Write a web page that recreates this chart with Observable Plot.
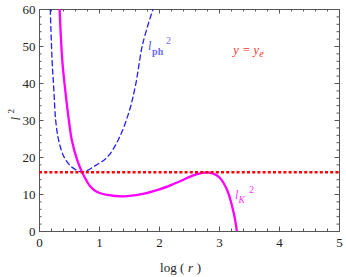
<!DOCTYPE html>
<html><head><meta charset="utf-8">
<script src="https://cdn.jsdelivr.net/npm/d3@7"></script>
<script src="https://cdn.jsdelivr.net/npm/@observablehq/plot@0.6"></script>
<style>body{margin:0;background:#fff}</style>
</head><body><div id="chart"></div>
<script>
// l_ph^2 (blue dashed)
const phLogR = [0.18, 0.21, 0.24, 0.27, 0.32, 0.41, 0.54, 0.72, 0.93, 1.13, 1.32, 1.49, 1.6, 1.72, 1.89];
const phL2   = [60,   46.2, 38.1, 30,   24.6, 20.1, 17.4, 16.1, 17.8, 20.1, 25.0, 32.2, 39.5, 50.7, 60];
// l_K^2 (magenta solid)
const kLogR = [0.335, 0.38, 0.43, 0.49, 0.54, 0.63, 0.71, 0.85, 0.96, 1.13, 1.4, 1.7, 2.0, 2.2, 2.4, 2.55, 2.7, 2.8, 2.9, 3.0, 3.13, 3.24, 3.29];
const kL2   = [60,    46.2, 38.1, 30,   24.6, 19.2, 16.0, 12.1, 10.7, 9.9,  9.5, 10.1, 11.4, 12.6, 14.0, 15.1, 15.8, 16.0, 15.6, 14.6, 11.1, 4.8, 0];
const yE = 16;
const xMajor = [0, 1, 2, 3, 4, 5];
const yMajor = [0, 10, 20, 30, 40, 50, 60];

const ph = phLogR.map((x, i) => ({x, y: phL2[i]}));
const kk = kLogR.map((x, i) => ({x, y: kL2[i]}));
const xMinor = d3.range(0, 5.001, 0.2).map(v => +v.toFixed(2)).filter(v => Math.abs(v - Math.round(v)) > 1e-6);
const yMinor = d3.range(0, 60.001, 2).filter(v => v % 10 !== 0);

const W = 346, H = 277, mt = 9, mb = 46, ml = 39, mr = 7;
const ih = H - mt - mb, iw = W - ml - mr;
const tc = "#555";
const serif = "Liberation Serif, Times New Roman, serif";

const chart = Plot.plot({
  width: W, height: H,
  marginTop: mt, marginBottom: mb, marginLeft: ml, marginRight: mr,
  style: {fontFamily: serif, background: "#fff", overflow: "visible"},
  x: {domain: [0, 5]},
  y: {domain: [0, 60]},
  marks: [
    // ticks inward, all four sides
    Plot.ruleX(xMajor, {insetTop: ih - 4.5, stroke: tc}),
    Plot.ruleX(xMajor, {insetBottom: ih - 4.5, stroke: tc}),
    Plot.ruleX(xMinor, {insetTop: ih - 2.5, stroke: tc}),
    Plot.ruleX(xMinor, {insetBottom: ih - 2.5, stroke: tc}),
    Plot.ruleY(yMajor, {insetRight: iw - 4.5, stroke: tc}),
    Plot.ruleY(yMajor, {insetLeft: iw - 4.5, stroke: tc}),
    Plot.ruleY(yMinor, {insetRight: iw - 2.5, stroke: tc}),
    Plot.ruleY(yMinor, {insetLeft: iw - 2.5, stroke: tc}),
    Plot.axisX({ticks: xMajor, tickSize: 0, tickPadding: 6, fontSize: 13, fill: "#222", tickFormat: d => d, label: null}),
    Plot.axisY({ticks: yMajor, tickSize: 0, tickPadding: 4, fontSize: 13, fill: "#222", tickFormat: d => d, label: null}),
    Plot.frame({stroke: tc}),
    Plot.line(ph, {x: "x", y: "y", curve: "catmull-rom", stroke: "#1f1fff", strokeWidth: 1.3, strokeDasharray: "5,3.5", clip: true}),
    Plot.line(kk, {x: "x", y: "y", curve: "catmull-rom", stroke: "#ff00ff", strokeWidth: 2.3, clip: true}),
    Plot.ruleY([yE], {stroke: "#ff0000", strokeWidth: 2.6, strokeDasharray: "3,2.2"}),
    // curve labels
    Plot.text([{x: 1.81, y: 50}], {x: "x", y: "y", text: () => "l", fontStyle: "italic", fontSize: 12, fill: "#4a4aff", textAnchor: "start"}),
    Plot.text([{x: 1.81, y: 50}], {x: "x", y: "y", text: () => "ph", fontSize: 10, fontWeight: "bold", fill: "#6a6aff", textAnchor: "start", dx: 4, dy: 5}),
    Plot.text([{x: 1.81, y: 50}], {x: "x", y: "y", text: () => "2", fontSize: 10, fill: "#6a6aff", textAnchor: "start", dx: 18, dy: -6}),
    Plot.text([{x: 3.23, y: 49}], {x: "x", y: "y", text: () => "y = y", fontStyle: "italic", fontSize: 12.5, fill: "#ff3030", textAnchor: "start"}),
    Plot.text([{x: 3.23, y: 49}], {x: "x", y: "y", text: () => "e", fontStyle: "italic", fontSize: 10, fill: "#ff3030", textAnchor: "start", dx: 26, dy: 4}),
    Plot.text([{x: 3.26, y: 9.7}], {x: "x", y: "y", text: () => "l", fontStyle: "italic", fontSize: 12, fill: "#ff33ff", textAnchor: "start"}),
    Plot.text([{x: 3.26, y: 9.7}], {x: "x", y: "y", text: () => "K", fontStyle: "italic", fontSize: 9.5, fill: "#ff33ff", textAnchor: "start", dx: 3.5, dy: 4}),
    Plot.text([{x: 3.26, y: 9.7}], {x: "x", y: "y", text: () => "2", fontSize: 10, fill: "#ff33ff", textAnchor: "start", dx: 14, dy: -6}),
    // axis titles
    Plot.text([0], {frameAnchor: "bottom", text: () => "log ( ", fontSize: 13, fill: "#222", textAnchor: "end", dx: -2, dy: 40}),
    Plot.text([0], {frameAnchor: "bottom", text: () => "r", fontStyle: "italic", fontSize: 13, fill: "#222", textAnchor: "middle", dx: 1, dy: 40}),
    Plot.text([0], {frameAnchor: "bottom", text: () => " )", fontSize: 13, fill: "#222", textAnchor: "start", dx: 4, dy: 40}),
    Plot.text([0], {frameAnchor: "left", text: () => "l", fontStyle: "italic", fontSize: 13, fill: "#222", rotate: -90, dx: -24, dy: 0}),
    Plot.text([0], {frameAnchor: "left", text: () => "2", fontSize: 9, fill: "#222", rotate: -90, dx: -28, dy: -7})
  ]
});
document.getElementById("chart").append(chart);
</script>
</body></html>
